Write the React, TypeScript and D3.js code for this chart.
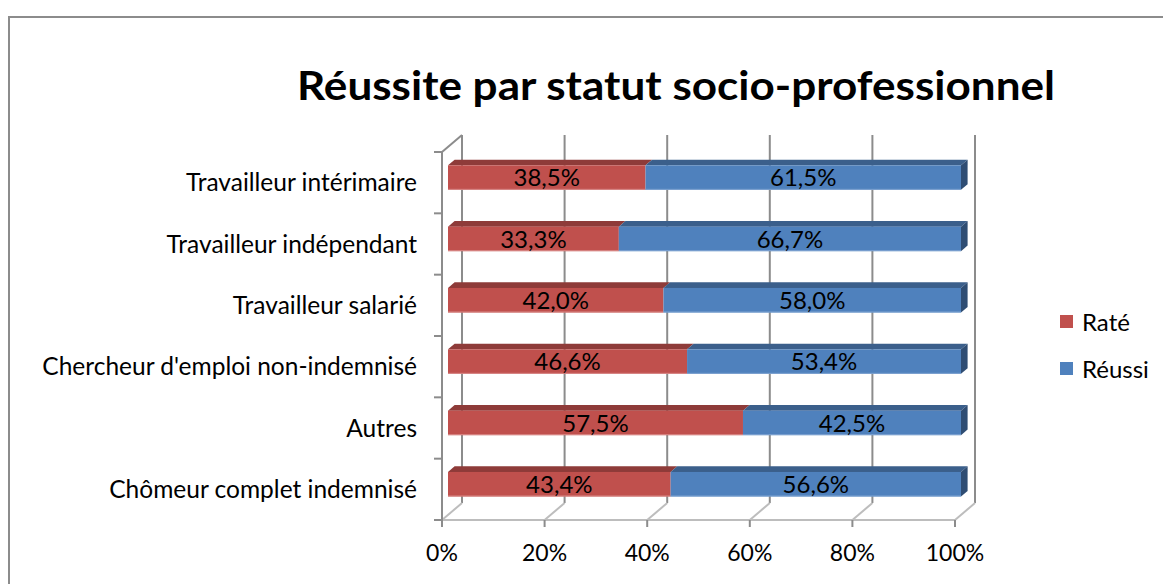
import React from "react";
import * as d3 from "d3";

const categories = [
  "Travailleur intérimaire",
  "Travailleur indépendant",
  "Travailleur salarié",
  "Chercheur d'emploi non-indemnisé",
  "Autres",
  "Chômeur complet indemnisé",
];
const rate = [38.5, 33.3, 42.0, 46.6, 57.5, 43.4];
const reussi = [61.5, 66.7, 58.0, 53.4, 42.5, 56.6];
const seriesNames = ["Raté", "Réussi"];
const xTicks = [0, 20, 40, 60, 80, 100];

const W = 1163;
const H = 584;
const X0 = 442, X1 = 955, YT = 152, YB = 520;
const DX = 20, DY = -17;
const F1 = 0.3, F2 = 0.63;

const colors = {
  red: { front: "#C0504D", top: "#8E3B39", side: "#7F3331", edge: "#D98A88" },
  blue: { front: "#4F81BD", top: "#3B5F8B", side: "#2F4D73", edge: "#7FA3D1" },
};

const fmt = (v: number) => v.toFixed(1).replace(".", ",") + "%";
const FONT = "Lato, 'Open Sans', sans-serif";

export default function App() {
  const x = d3.scaleLinear().domain([0, 100]).range([X0, X1]);
  const y = d3.scaleBand<string>().domain(categories).range([YT, YB]).paddingInner(0.6).paddingOuter(0.3);
  const step = y.step();
  const bw = y.bandwidth();
  const ox1 = DX * F1, oy1 = DY * F1;
  const ox2 = DX * F2, oy2 = DY * F2;

  const poly = (pts: [number, number][]) => pts.map((p) => p.join(",")).join(" ");

  return (
    <svg width={W} height={H} style={{ position: "absolute", left: 0, top: 0, background: "#fff" }}>
      <rect x={9} y={17} width={W} height={H} fill="#fff" stroke="#8C8C8C" strokeWidth={2} />
      <text x={676} y={100} textAnchor="middle" fontFamily={FONT} fontWeight="bold" fontSize={40}
        textLength={758} lengthAdjust="spacingAndGlyphs" fill="#000">
        Réussite par statut socio-professionnel
      </text>

      {/* back wall gridlines */}
      {xTicks.map((t) => (
        <line key={"g" + t} x1={x(t) + DX} x2={x(t) + DX} y1={YT + DY} y2={YB + DY} stroke="#8C8C8C" strokeWidth={2} />
      ))}
      {/* floor */}
      {xTicks.map((t) => (
        <line key={"f" + t} x1={x(t)} y1={YB} x2={x(t) + DX} y2={YB + DY} stroke="#BDBDBD" strokeWidth={2} />
      ))}
      <line x1={X0} x2={X1} y1={YB} y2={YB} stroke="#BDBDBD" strokeWidth={2} />
      {/* left wall */}
      <line x1={X0} y1={YT} x2={X0 + DX} y2={YT + DY} stroke="#8C8C8C" strokeWidth={2} />
      <line x1={X0} x2={X0} y1={YT} y2={YB + 7} stroke="#8C8C8C" strokeWidth={2} />
      {d3.range(categories.length + 1).map((i) => (
        <line key={"yt" + i} x1={X0 - 8} x2={X0} y1={YT + i * step} y2={YT + i * step} stroke="#8C8C8C" strokeWidth={2} />
      ))}
      {xTicks.map((t) => (
        <line key={"xt" + t} x1={x(t)} x2={x(t)} y1={YB} y2={YB + 7} stroke="#8C8C8C" strokeWidth={2} />
      ))}

      {/* bars */}
      {categories.map((c, i) => {
        const yTop = (y(c) as number) + oy1;
        const yBot = yTop + bw;
        const segs = [
          { v0: 0, v1: rate[i], col: colors.red, val: rate[i] },
          { v0: rate[i], v1: 100, col: colors.blue, val: reussi[i] },
        ];
        return (
          <g key={c}>
            {segs.map((s, k) => {
              const xa = x(s.v0) + ox1;
              const xb = x(s.v1) + ox1;
              const dxx = ox2 - ox1, dyy = oy2 - oy1;
              return (
                <g key={k}>
                  <polygon points={poly([[xa, yTop], [xb, yTop], [xb + dxx, yTop + dyy], [xa + dxx, yTop + dyy]])} fill={s.col.top} />
                  <rect x={xa} y={yTop} width={xb - xa} height={bw} fill={s.col.front} />
                  <line x1={xa} x2={xb} y1={yBot - 0.5} y2={yBot - 0.5} stroke={s.col.edge} strokeWidth={1} />
                  {k === 1 && (
                    <polygon points={poly([[xb, yTop], [xb + dxx, yTop + dyy], [xb + dxx, yBot + dyy], [xb, yBot]])} fill={s.col.side} />
                  )}
                  <text x={(xa + xb) / 2} y={yTop + bw / 2} dy="0.36em" textAnchor="middle" fontFamily={FONT} fontSize={24} fill="#000">
                    {fmt(s.val)}
                  </text>
                </g>
              );
            })}
          </g>
        );
      })}

      {/* category labels */}
      {categories.map((c) => (
        <text key={"l" + c} x={417} y={(y(c) as number) + bw / 2} dy="0.36em" textAnchor="end" fontFamily={FONT} fontSize={24.5} fill="#000">
          {c}
        </text>
      ))}
      {/* x tick labels */}
      {xTicks.map((t) => (
        <text key={"xl" + t} x={x(t)} y={553} dy="0.36em" textAnchor="middle" fontFamily={FONT} fontSize={23} fill="#000">
          {t}%
        </text>
      ))}

      {/* legend */}
      {seriesNames.map((n, i) => (
        <g key={n}>
          <rect x={1060} y={315 + i * 47} width={13} height={13} fill={i === 0 ? colors.red.front : colors.blue.front} />
          <text x={1082} y={322 + i * 47} dy="0.36em" fontFamily={FONT} fontSize={24} fill="#000">{n}</text>
        </g>
      ))}
    </svg>
  );
}
